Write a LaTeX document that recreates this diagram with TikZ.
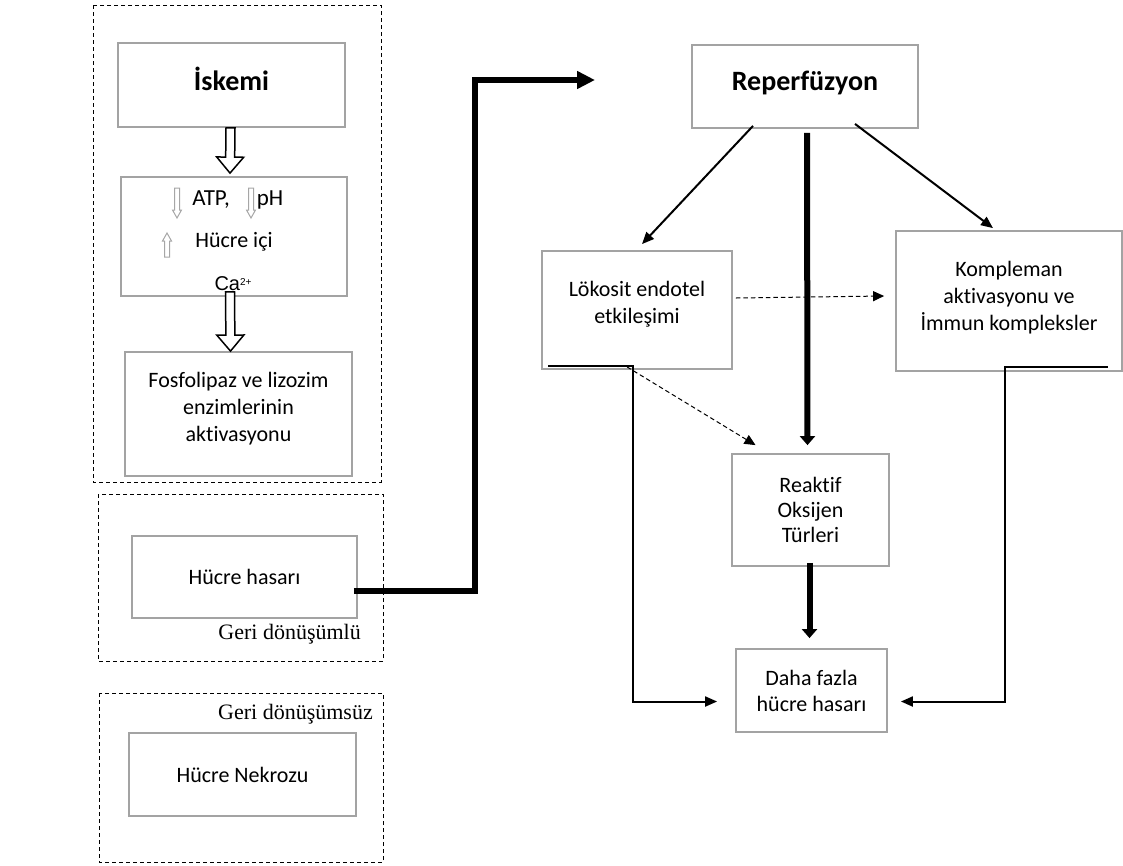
\documentclass[tikz,border=0pt]{standalone}
\usepackage{fontspec}
\setmainfont{Carlito}[Ligatures=NoCommon]
\newfontfamily\timesfont{Liberation Serif}
\newfontfamily\arialfont{Liberation Sans}
\usetikzlibrary{arrows.meta,calc}

\tikzset{
  box/.style={draw=black!36, line width=1.8pt, rectangle, align=center, inner sep=0pt,
    font=\fontsize{22}{27}\selectfont},
  title/.style={font=\fontsize{28}{30}\selectfont\bfseries},
  region/.style={draw=black, line width=0.9pt, dash pattern=on 4pt off 3pt},
  link/.style={line width=2pt, line join=miter, -{Triangle[length=12pt,width=10pt]}},
  dashlink/.style={line width=1pt, dash pattern=on 4.5pt off 3pt, -{Triangle[length=11pt,width=10pt]}},
  heavy/.style={line width=6pt, -{Triangle[length=9pt,width=15pt]}},
  bigarrow/.style={line width=6pt, line join=miter, -{Triangle[length=18pt,width=17pt]}},
  note/.style={font=\fontsize{22}{26}\selectfont\timesfont, inner sep=0pt},
  small/.style={font=\fontsize{23}{24}\selectfont, inner sep=0pt}
}

% block arrow: [style]{from}{to}{shaft}{head}{length}
\newcommand{\blockarrow}[6][]{%
  \coordinate (ba-neck) at ($(#3)!#6!(#2)$);
  \draw[#1] ($(#2)!#4!90:(#3)$) -- ($(ba-neck)!#4!90:(#3)$) -- ($(ba-neck)!#5!90:(#3)$)
    -- (#3) -- ($(ba-neck)!#5!-90:(#3)$) -- ($(ba-neck)!#4!-90:(#3)$) -- ($(#2)!#4!-90:(#3)$) -- cycle;}

\begin{document}
\begin{tikzpicture}[x=1pt,y=-1pt]
\useasboundingbox (0,0) rectangle (1123,865);

% left column
\draw[region] (93,5) rectangle (381,482);
\draw[region] (98,494) rectangle (383,661);
\draw[region] (99,693) rectangle (383,862);

\node[box, title, text depth=12pt, minimum width=227pt, minimum height=84pt] (iskemi) at (231.5,85) {İskemi};
\node[box, minimum width=226pt, minimum height=119pt] (atp) at (234,236.5) {};
\node[box, text depth=13.5pt, minimum width=227pt, minimum height=124pt] (fosfo) at (238.5,414) {Fosfolipaz ve lizozim\\enzimlerinin\\aktivasyonu};
\node[box, minimum width=225pt, minimum height=82pt] (hasar) at (244.5,577) {Hücre hasarı};
\node[box, minimum width=227pt, minimum height=83pt] (nekroz) at (242.5,774.5) {Hücre Nekrozu};

\node[small, anchor=base] (atpt) at (211,205) {ATP,};
\node[small, anchor=base] (pht) at (270,205) {pH};
\node[box, draw=none, anchor=base] (icit) at (234,247) {Hücre içi};
\node[anchor=base, inner sep=0pt, font=\fontsize{20}{22}\selectfont\arialfont] (cat) at (233,290) {Ca\raisebox{5pt}{\fontsize{10}{12}\selectfont 2+}};

\blockarrow[draw=black!35, line width=1pt, fill=white]{177,188}{177,218}{2.5pt}{4.5pt}{8pt}
\blockarrow[draw=black!35, line width=1pt, fill=white]{251,188}{251,218}{2.5pt}{4.5pt}{8pt}
\blockarrow[draw=black!35, line width=1pt, fill=white]{167,257}{167,233}{2.5pt}{4.5pt}{8pt}

\blockarrow[draw=black, line width=1.5pt, fill=white]{$(iskemi.south)+(-1,0)$}{$(atp.north)+(-4,-3)$}{4.5pt}{13.5pt}{16pt}
\blockarrow[draw=black, line width=1.5pt, fill=white]{$(atp.south)+(-4,-5)$}{$(fosfo.north)+(-8,0)$}{4.5pt}{13.5pt}{16pt}

\node[note, anchor=base east] (geri1) at (361,639) {Geri dönüşümlü};
\node[note, anchor=base east] (geri2) at (373,719) {Geri dönüşümsüz};

% right side
\node[box, title, text depth=10.5pt, minimum width=226pt, minimum height=83pt] (reperf) at (805,86.5) {Reperfüzyon};
\node[box, text depth=15pt, minimum width=190pt, minimum height=118pt] (lokosit) at (637,310) {Lökosit endotel\\etkileşimi};
\node[box, text depth=11pt, minimum width=226pt, minimum height=140pt] (komp) at (1009,301) {Kompleman\\aktivasyonu ve\\İmmun kompleksler};
\node[box, minimum width=157pt, minimum height=112pt, font=\fontsize{22}{25}\selectfont] (reaktif) at (810.5,510) {Reaktif\\Oksijen\\Türleri};
\node[box, minimum width=151pt, minimum height=83pt, font=\fontsize{22}{26}\selectfont] (daha) at (811.5,690.5) {Daha fazla\\hücre hasarı};

\coordinate (turn) at (475,80);
\coordinate (reptip) at (595,80);
\draw[bigarrow] ($(hasar.east)+(-4,14)$) -| (turn) -- (reptip);

\draw[link] ($(reperf.south)+(-52,-3)$) -- ($(lokosit.north)+(5,-6)$);
\draw[link] ($(reperf.south)+(50,-5)$) -- ($(komp.north)+(-16,-2)$);
\draw[heavy] ($(reperf.south)+(2,4)$) -- ($(reaktif.north)+(-3,-8)$);
\draw[heavy] ($(reaktif.south)+(-1,-4)$) -- ($(daha.north)+(-2,-10)$);

\draw[dashlink] ($(lokosit.east)+(3,-12)$) -- ($(komp.west)+(-11,-5)$);
\draw[dashlink] ($(lokosit.south)+(-10,-3)$) -- ($(reaktif.north)+(-55,-8)$);

\draw[link] ($(lokosit.south west)+(7,-4)$) -- ++(85,0) |- ($(daha.west)+(-18,11)$);
\draw[link] ($(komp.south east)+(-15,-5)$) -- ++(-103,0) |- ($(daha.east)+(13,11)$);
\end{tikzpicture}
\end{document}
